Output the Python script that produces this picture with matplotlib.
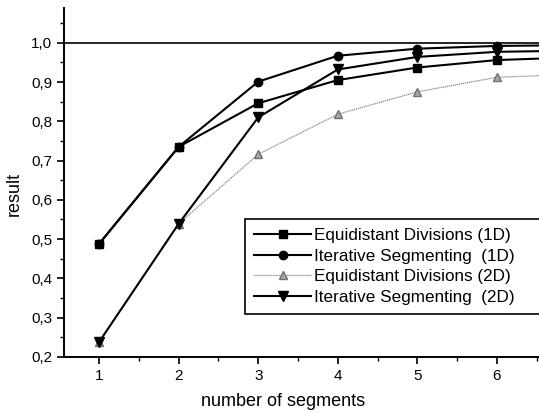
import matplotlib.pyplot as plt
from matplotlib.ticker import MultipleLocator, FuncFormatter

plt.rcParams['font.family'] = ['Liberation Sans', 'DejaVu Sans']

segments = [1, 2, 3, 4, 5, 6, 7]
eq_1d = [0.488, 0.735, 0.846, 0.905, 0.937, 0.956, 0.963]
it_1d = [0.488, 0.735, 0.901, 0.967, 0.985, 0.992, 0.994]
eq_2d = [0.238, 0.539, 0.716, 0.818, 0.875, 0.912, 0.920]
it_2d = [0.238, 0.539, 0.810, 0.932, 0.964, 0.977, 0.980]

fig = plt.figure(figsize=(5.39, 4.13), dpi=100)
ax = fig.add_axes([0.119, 0.136, 0.881, 0.845])

ax.axhline(1.0, color='black', lw=1.2)
ax.plot(segments, eq_1d, color='black', lw=1.5, marker='s', ms=6,
        label='Equidistant Divisions (1D)')
ax.plot(segments, it_1d, color='black', lw=1.5, marker='o', ms=6,
        label='Iterative Segmenting  (1D)')
ax.plot(segments, eq_2d, color='#8a8a8a', lw=0.9, ls=(0, (1, 0.6)), marker='^', ms=6,
        mfc='#a8a8a8', mec='#707070', label='Equidistant Divisions (2D)')
ax.plot(segments, it_2d, color='black', lw=1.5, marker='v', ms=6.5,
        label='Iterative Segmenting  (2D)')

ax.set_xlim(0.56, 6.53)
ax.set_ylim(0.2, 1.089)
ax.xaxis.set_major_locator(MultipleLocator(1))
ax.xaxis.set_minor_locator(MultipleLocator(0.5))
ax.yaxis.set_major_locator(MultipleLocator(0.1))
ax.yaxis.set_minor_locator(MultipleLocator(0.05))
ax.yaxis.set_major_formatter(FuncFormatter(lambda v, p: f'{v:.1f}'.replace('.', ',')))
ax.tick_params(which='major', direction='out', length=5, width=1.2, labelsize=11)
ax.tick_params(which='minor', direction='out', length=3, width=1)

for s in ['top', 'right']:
    ax.spines[s].set_visible(False)
for s in ['left', 'bottom']:
    ax.spines[s].set_linewidth(1.4)

ax.set_xlabel('number of segments', fontsize=13)
ax.set_ylabel('result', fontsize=13)
ax.xaxis.set_label_coords(0.461, -0.103)
ax.yaxis.set_label_coords(-0.088, 0.467)

leg = ax.legend(loc='upper left', bbox_to_anchor=(0.381, 0.12, 0.66, 0.275), mode='expand',
                borderaxespad=0, fontsize=12.3, fancybox=False, framealpha=1,
                edgecolor='black', handlelength=3.3, handletextpad=0.2,
                labelspacing=0.32, borderpad=0.55)
leg.get_frame().set_linewidth(1.2)

fig.savefig('out.png', dpi=100)
